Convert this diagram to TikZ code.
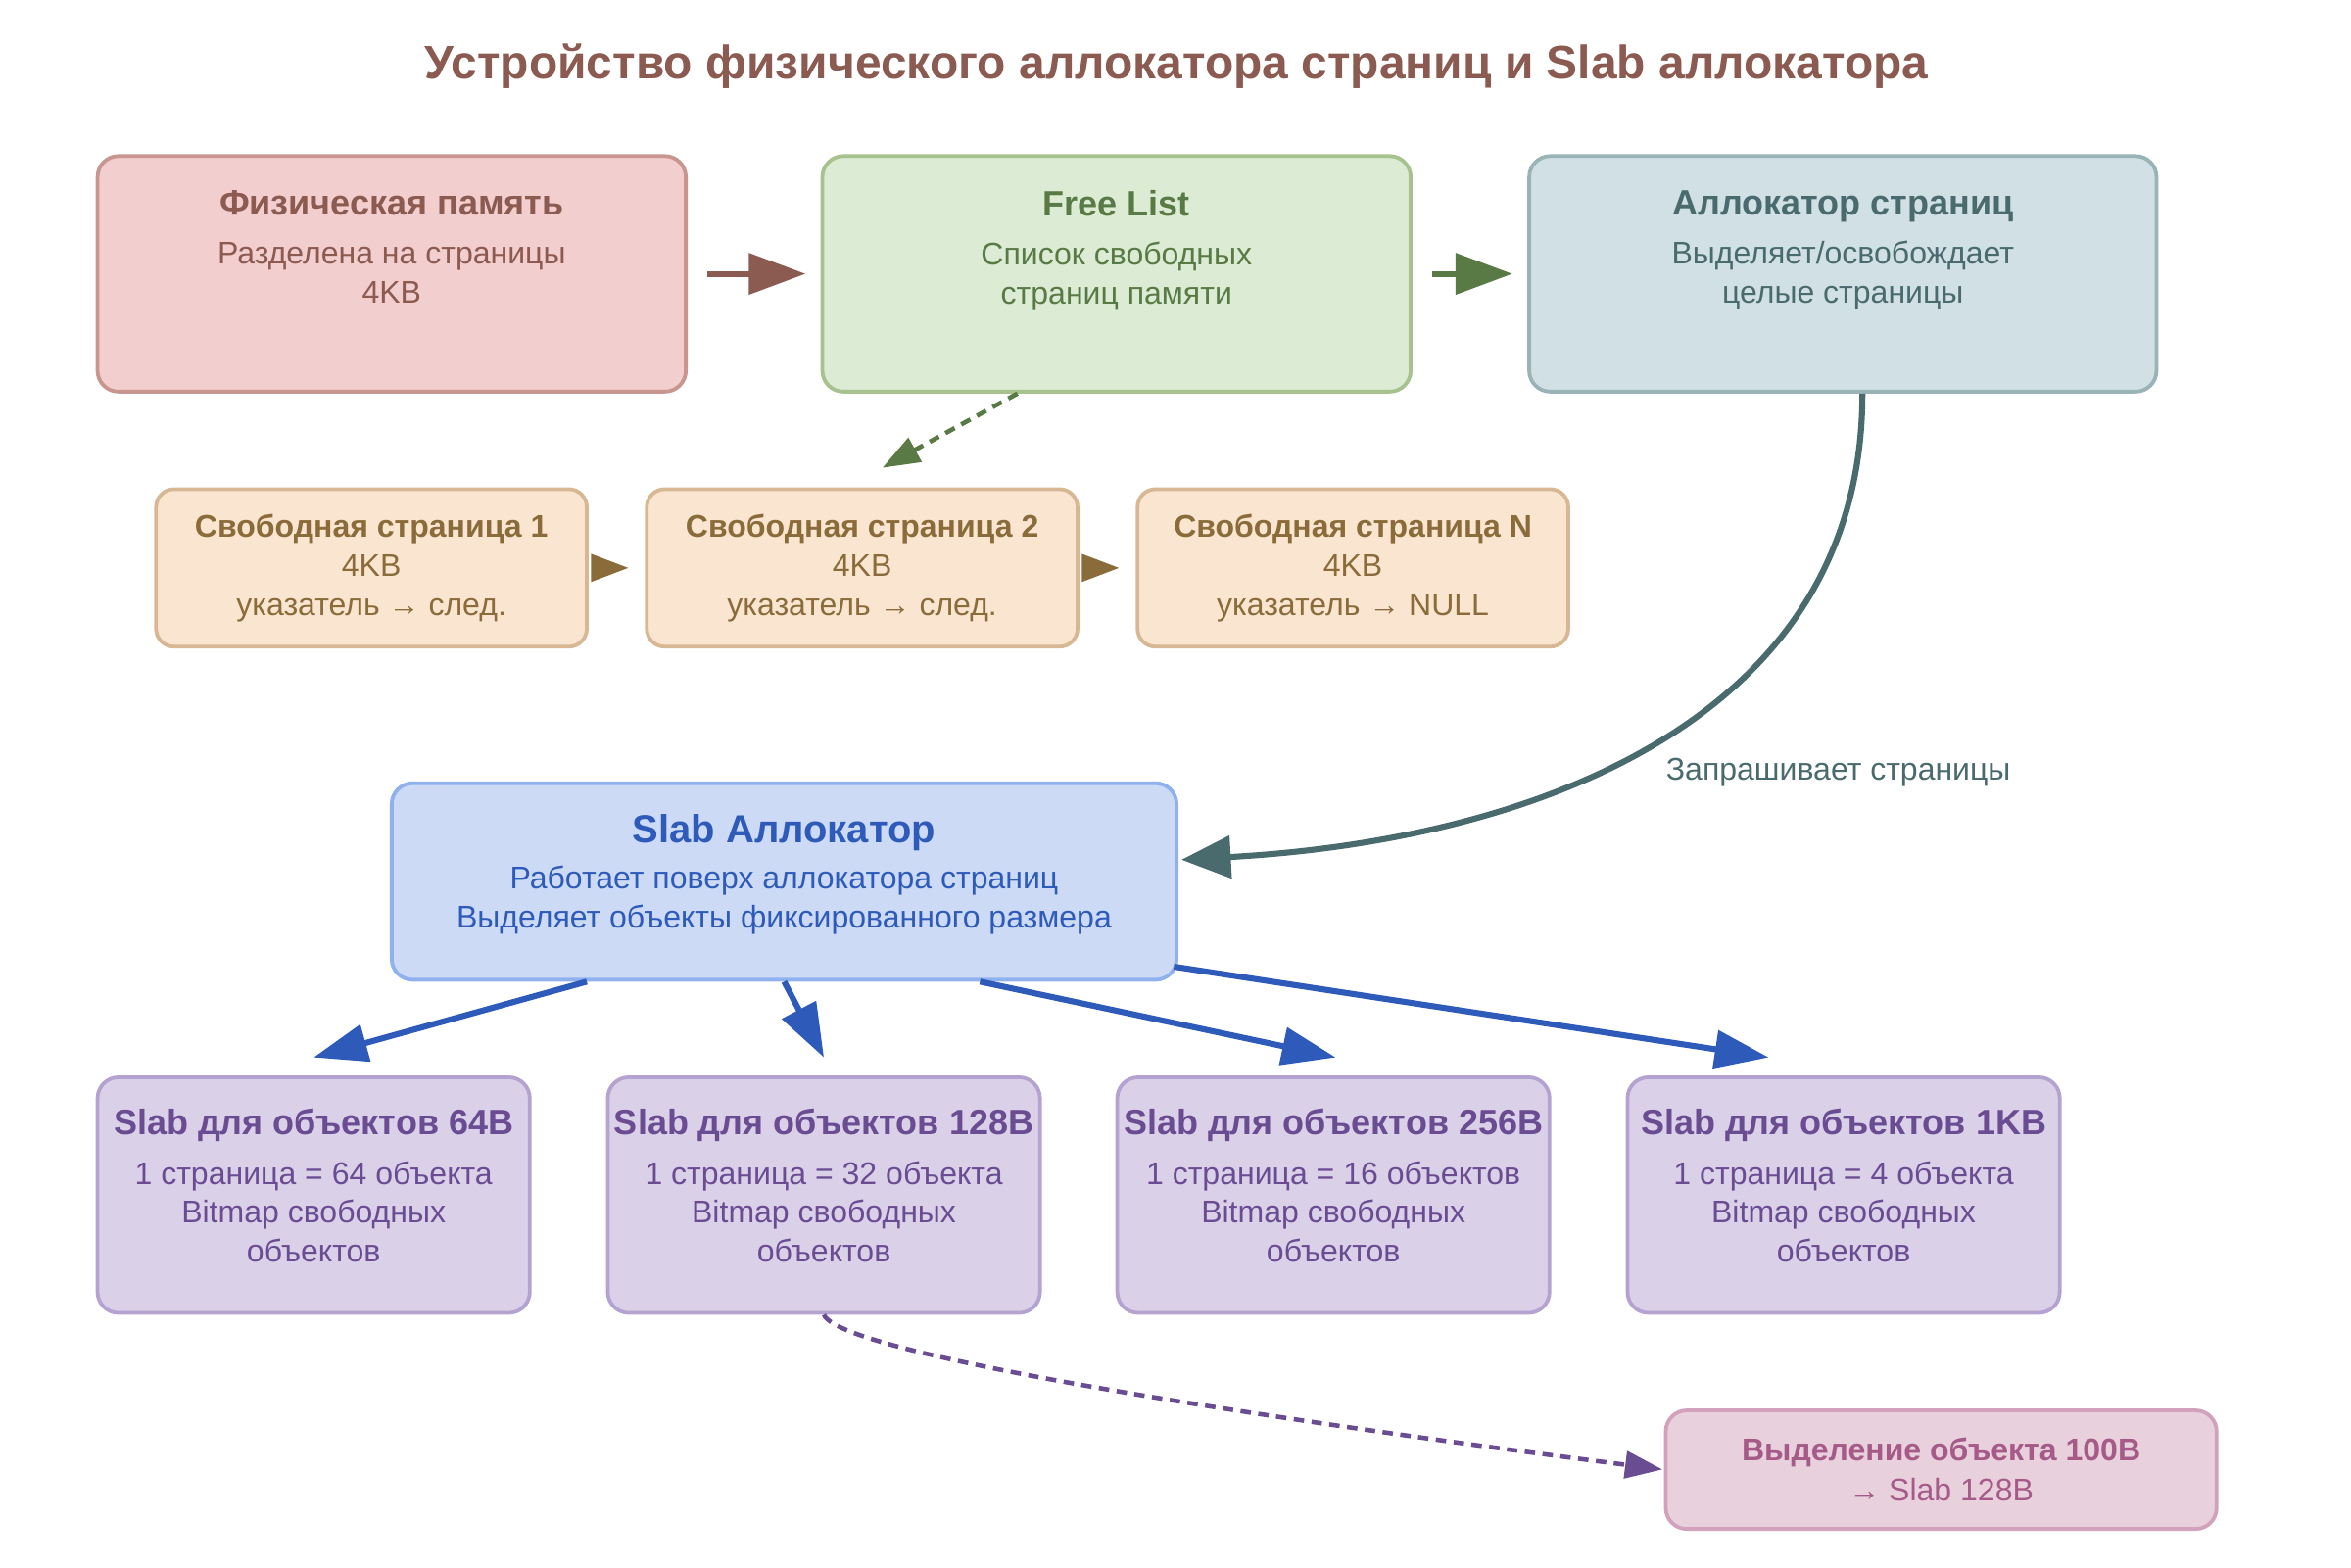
\documentclass[tikz,border=0pt]{standalone}
\usepackage{fontspec}
\setmainfont{Liberation Sans}
\usetikzlibrary{arrows.meta,calc}
\definecolor{physfill}{HTML}{F2CECE}\definecolor{physline}{HTML}{C9958F}\definecolor{phystext}{HTML}{8B5A50}
\definecolor{flfill}{HTML}{DCEBD4}\definecolor{flline}{HTML}{A6C28F}\definecolor{fltext}{HTML}{5A7A45}
\definecolor{pgfill}{HTML}{D1E0E4}\definecolor{pgline}{HTML}{9AB3B7}\definecolor{pgtext}{HTML}{4A6B6E}
\definecolor{fpfill}{HTML}{FAE6D0}\definecolor{fpline}{HTML}{D8B894}\definecolor{fptext}{HTML}{8A6B3A}
\definecolor{slfill}{HTML}{CCDAF6}\definecolor{slline}{HTML}{8FB2EE}\definecolor{sltext}{HTML}{2E5BBA}
\definecolor{sbfill}{HTML}{DAD1E8}\definecolor{sbline}{HTML}{B4A3D1}\definecolor{sbtext}{HTML}{6A4C93}
\definecolor{obfill}{HTML}{E8D0DC}\definecolor{obline}{HTML}{D2A2BC}\definecolor{obtext}{HTML}{A55A88}
\newcommand\hdfont{\fontsize{23.5bp}{26bp}\selectfont\bfseries}
\newcommand\fphd{\fontsize{20.9bp}{26bp}\selectfont\bfseries}
\tikzset{
  box/.style={draw, rounded corners=14pt, line width=2.5pt, align=center, inner sep=0pt,
    font=\fontsize{20.9bp}{26bp}\selectfont},
  topbox/.style={box, minimum width=392bp, minimum height=157bp},
  fpbox/.style={box, fill=fpfill, draw=fpline, text=fptext, minimum width=287bp, minimum height=105bp,
    rounded corners=12pt},
  sbbox/.style={box, fill=sbfill, draw=sbline, text=sbtext, minimum width=288bp, minimum height=157bp},
  toparrow/.style={line width=4pt, -{Triangle[length=38pt,width=27pt]}, shorten <=13pt, shorten >=10pt},
  fparrow/.style={line width=3pt, draw=fptext, -{Triangle[length=25pt,width=18pt]}, shorten <=3pt, shorten >=11pt},
  slarrow/.style={line width=4pt, draw=sltext, -{Triangle[length=36pt,width=25pt]}},
}
\begin{document}
\begin{tikzpicture}[x=1bp,y=-1bp]
\useasboundingbox (0,0) rectangle (1566.6,1044.4);
\node[text=phystext, font=\fontsize{31.3bp}{36bp}\selectfont\bfseries] (title) at (784,44)
  {Устройство физического аллокатора страниц и Slab аллокатора};

% верхний ряд
\node[topbox, fill=physfill, draw=physline, text=phystext] (phys) at (261,182.5)
  {{\hdfont Физическая память}\\[7pt]Разделена на страницы\\4KB\\[2pt]\strut};
\node[topbox, fill=flfill, draw=flline, text=fltext] (free) at (744,182.5)
  {{\hdfont Free List}\\[7pt]Список свободных\\страниц памяти\\[2pt]\strut};
\node[topbox, fill=pgfill, draw=pgline, text=pgtext, minimum width=418bp] (page) at (1228,182.5)
  {{\hdfont Аллокатор страниц}\\[7pt]Выделяет/освобождает\\целые страницы\\[2pt]\strut};
\draw[toparrow, draw=phystext] (phys.east) -- (free.west);
\draw[toparrow, draw=fltext] (free.east) -- (page.west);

% свободные страницы
\node[fpbox] (fp1) at (247.5,378.5) {{\fphd Свободная страница 1}\\4KB\\указатель → след.};
\node[fpbox] (fp2) at (574.5,378.5) {{\fphd Свободная страница 2}\\4KB\\указатель → след.};
\node[fpbox] (fpN) at (901.5,378.5) {{\fphd Свободная страница N}\\4KB\\указатель → NULL};
\draw[fparrow] (fp1.east) -- (fp2.west);
\draw[fparrow] (fp2.east) -- (fpN.west);
\draw[line width=3pt, draw=fltext, dash pattern=on 7pt off 5pt, -{Triangle[length=25pt,width=18pt]}]
  ($(free.south)+(-66,0)$) -- ($(fp2.north)+(13.5,-13)$);

% slab
\node[box, fill=slfill, draw=slline, text=sltext, minimum width=523bp, minimum height=131bp] (slab) at (522.5,587.5)
  {{\fontsize{26.1bp}{26bp}\selectfont\bfseries Slab Аллокатор}\\[5pt]Работает поверх аллокатора страниц\\Выделяет объекты фиксированного размера\\[-20pt]\strut};
\draw[line width=4pt, draw=pgtext, -{Triangle[length=33pt,width=28pt]}]
  ($(page.south)+(13,0)$) .. controls +(0,218) and +(234,-13) .. ($(slab.east)+(2,-14.5)$);
\node[text=pgtext, font=\fontsize{20.9bp}{24bp}\selectfont] (req) at (1225,515) {Запрашивает страницы};

\node[sbbox] (s64) at (209,796.5) {{\hdfont Slab для объектов 64B}\\[7pt]1 страница = 64 объекта\\Bitmap свободных\\объектов\\[-21pt]\strut};
\node[sbbox] (s128) at (549,796.5) {{\hdfont Slab для объектов 128B}\\[7pt]1 страница = 32 объекта\\Bitmap свободных\\объектов\\[-21pt]\strut};
\node[sbbox] (s256) at (888.5,796.5) {{\hdfont Slab для объектов 256B}\\[7pt]1 страница = 16 объектов\\Bitmap свободных\\объектов\\[-21pt]\strut};
\node[sbbox] (s1k) at (1228.5,796.5) {{\hdfont Slab для объектов 1KB}\\[7pt]1 страница = 4 объекта\\Bitmap свободных\\объектов\\[-21pt]\strut};
\draw[slarrow] ($(slab.south)+(-131.5,0)$) -- ($(s64.north)+(0,-12)$);
\draw[slarrow] (slab.south) -- ($(s128.north)+(0,-12)$);
\draw[slarrow] ($(slab.south)+(130.5,0)$) -- ($(s256.north)+(1.5,-12)$);
\draw[slarrow] ($(slab.south east)+(-3,-10)$) -- ($(s1k.north)+(-50,-12)$);

% пример выделения
\node[box, fill=obfill, draw=obline, text=obtext, minimum width=367bp, minimum height=79bp] (obj) at (1293.5,979.5)
  {{\fontsize{20.9bp}{26bp}\selectfont\bfseries Выделение объекта 100B}\\[1pt]→ Slab 128B};
\draw[line width=3pt, draw=sbtext, dash pattern=on 7pt off 5pt, -{Triangle[length=25pt,width=18pt]}, shorten >=1pt]
  (s128.south) .. controls +(12,29) and +(-212,-27) .. (obj.west);
\end{tikzpicture}
\end{document}
